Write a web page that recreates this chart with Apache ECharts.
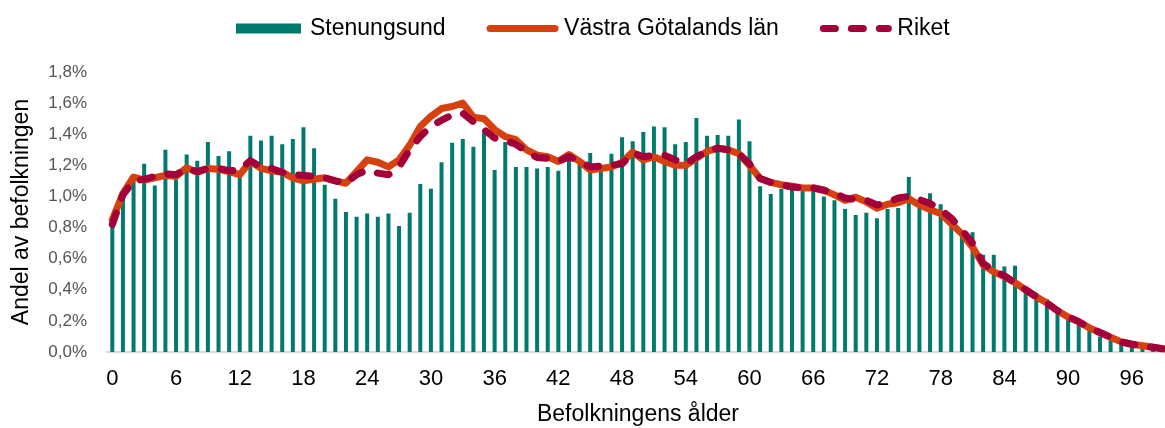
<!DOCTYPE html>
<html>
<head>
<meta charset="utf-8">
<script src="https://cdn.jsdelivr.net/npm/echarts@6/dist/echarts.min.js"></script>
<style>
  html, body { margin: 0; padding: 0; background: #fff; }
  #chart { width: 1165px; height: 428px; }
</style>
</head>
<body>
<div id="chart"></div>
<script>
const ages = [];
for (let a = 0; a <= 99; a++) ages.push(String(a));

// andel av befolkningen i procent, per ålder 0-99
const stenungsund = [
  0.81, 0.98, 1.11, 1.21, 1.07, 1.30, 1.11, 1.27, 1.23, 1.35,
  1.26, 1.29, 1.14, 1.39, 1.36, 1.39, 1.335, 1.37, 1.445, 1.31,
  1.075, 0.985, 0.90, 0.87, 0.89, 0.87, 0.89, 0.81, 0.895, 1.08,
  1.05, 1.22, 1.345, 1.37, 1.32, 1.41, 1.17, 1.35, 1.19, 1.19,
  1.18, 1.19, 1.165, 1.235, 1.22, 1.28, 1.19, 1.275, 1.38, 1.355,
  1.415, 1.45, 1.445, 1.335, 1.35, 1.505, 1.39, 1.395, 1.39, 1.495,
  1.355, 1.065, 1.015, 1.05, 1.05, 1.04, 1.04, 1.0, 0.975, 0.92,
  0.88, 0.895, 0.86, 0.92, 0.925, 1.125, 0.95, 1.02, 0.95, 0.85,
  0.74, 0.77, 0.625, 0.625, 0.55, 0.555, 0.40, 0.38, 0.34, 0.25,
  0.22, 0.18, 0.14, 0.10, 0.08, 0.06, 0.04, 0.025, 0.015, 0.01
];
const vastraGotaland = [
  0.85, 1.02, 1.125, 1.105, 1.12, 1.135, 1.13, 1.185, 1.155, 1.18,
  1.175, 1.16, 1.14, 1.225, 1.18, 1.165, 1.155, 1.12, 1.10, 1.11,
  1.12, 1.10, 1.085, 1.16, 1.235, 1.22, 1.19, 1.235, 1.33, 1.45,
  1.515, 1.565, 1.578, 1.60, 1.51, 1.50, 1.43, 1.385, 1.365, 1.30,
  1.265, 1.255, 1.225, 1.27, 1.225, 1.17, 1.18, 1.19, 1.22, 1.285,
  1.235, 1.255, 1.225, 1.20, 1.20, 1.245, 1.29, 1.31, 1.30, 1.275,
  1.20, 1.115, 1.09, 1.075, 1.065, 1.055, 1.055, 1.04, 1.01, 0.975,
  0.995, 0.965, 0.925, 0.95, 0.96, 0.985, 0.945, 0.915, 0.89, 0.825,
  0.76, 0.675, 0.56, 0.515, 0.485, 0.445, 0.40, 0.355, 0.315, 0.265,
  0.225, 0.195, 0.155, 0.125, 0.095, 0.065, 0.05, 0.04, 0.03, 0.02
];
const riket = [
  0.82, 1.01, 1.10, 1.11, 1.13, 1.145, 1.14, 1.18, 1.16, 1.18,
  1.18, 1.165, 1.17, 1.23, 1.19, 1.18, 1.155, 1.14, 1.135, 1.13,
  1.12, 1.10, 1.085, 1.14, 1.17, 1.15, 1.14, 1.19, 1.30, 1.385,
  1.45, 1.49, 1.525, 1.535, 1.48, 1.43, 1.375, 1.36, 1.335, 1.29,
  1.25, 1.245, 1.225, 1.255, 1.225, 1.19, 1.195, 1.20, 1.21, 1.28,
  1.255, 1.265, 1.265, 1.235, 1.21, 1.255, 1.29, 1.31, 1.30, 1.275,
  1.21, 1.115, 1.09, 1.075, 1.06, 1.055, 1.055, 1.04, 1.02, 0.99,
  0.98, 0.975, 0.945, 0.96, 0.99, 1.0, 0.98, 0.955, 0.915, 0.86,
  0.785, 0.70, 0.57, 0.525, 0.49, 0.445, 0.40, 0.355, 0.315, 0.265,
  0.225, 0.195, 0.155, 0.125, 0.095, 0.065, 0.05, 0.04, 0.03, 0.02
];

const font = "'Liberation Sans', Arial, sans-serif";

const chart = echarts.init(document.getElementById("chart"));
chart.setOption({
  animation: false,
  textStyle: { fontFamily: font },
  legend: {
    top: 12,
    left: 231,
    itemWidth: 65,
    itemHeight: 10,
    itemGap: 41,
    textStyle: { fontSize: 23, color: "#000", padding: [0, 0, 0, 4] },
    data: [
      { name: "Stenungsund", icon: "rect" },
      { name: "Västra Götalands län", lineStyle: { width: 7 }, itemStyle: { opacity: 0 } },
      { name: "Riket", lineStyle: { width: 7 }, itemStyle: { opacity: 0 } },
    ],
  },
  grid: {
    left: 107,
    right: -4,
    top: 72,
    bottom: 76,
    containLabel: false,
    outerBoundsMode: "none",
  },
  xAxis: {
    type: "category",
    data: ages,
    name: "Befolkningens ålder",
    nameLocation: "middle",
    nameGap: 51,
    nameTextStyle: { fontSize: 23, color: "#000" },
    axisLine: { lineStyle: { color: "#d9d9d9", width: 2 } },
    axisTick: { show: false },
    axisLabel: { interval: 5, fontSize: 22, color: "#000", margin: 16 },
  },
  yAxis: {
    type: "value",
    min: 0,
    max: 1.8,
    interval: 0.2,
    name: "Andel av befolkningen",
    nameLocation: "middle",
    nameGap: 74,
    nameTextStyle: { fontSize: 23, color: "#000" },
    splitLine: { show: false },
    axisLine: { show: false },
    axisTick: { show: false },
    axisLabel: {
      fontSize: 17,
      color: "#555",
      margin: 20,
      formatter: function (v) {
        return v.toFixed(1).replace(".", ",") + "%";
      },
    },
  },
  series: [
    {
      name: "Stenungsund",
      type: "bar",
      data: stenungsund,
      barWidth: 4,
      itemStyle: { color: "#007a6c" },
    },
    {
      name: "Västra Götalands län",
      type: "line",
      data: vastraGotaland,
      symbol: "none",
      lineStyle: { color: "#d7410f", width: 7, join: "round", cap: "round" },
      itemStyle: { color: "#d7410f" },
      z: 3,
    },
    {
      name: "Riket",
      type: "line",
      data: riket,
      symbol: "none",
      lineStyle: {
        color: "#a3003b",
        width: 7,
        type: [12, 16],
        join: "round",
        cap: "round",
      },
      itemStyle: { color: "#a3003b" },
      z: 4,
    },
  ],
});
</script>
</body>
</html>
